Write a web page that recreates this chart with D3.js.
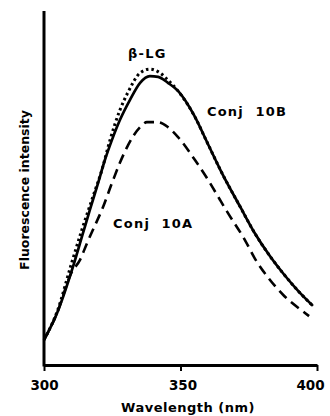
<!DOCTYPE html>
<html>
<head>
<meta charset="utf-8">
<script src="https://cdn.jsdelivr.net/npm/d3@7"></script>
<style>
  body { margin: 0; background: #fff; }
  text { font-family: "DejaVu Sans", "Liberation Sans", Arial, sans-serif; font-weight: bold; fill: #000; }
</style>
</head>
<body>
<div id="graphicContainer"></div>
<script>
// data (wavelength nm, relative intensity)
var conj10B = [[300,7.1],[304.8,14.7],[310.6,27.7],[314.3,37.3],[316.8,43.8],[319.8,51.4],[322.3,57.9],[324.9,63.6],
	[327.8,69.2],[331.5,74.9],[335.2,79.7],[338.8,81.6],[341.8,81.4],[345.4,79.7],[349,77.5],[355,70.5],[360,62.5],
	[365,54.5],[372,44.5],[377,37.5],[383,30.5],[388,25.5],[393,21],[398.5,16.7]];
var betaLG = [[300,7.1],[305,15.5],[310,28.5],[314,38.5],[317.9,47.5],[321.2,55.1],[324.2,63.6],[327.8,72],
	[330.8,77.1],[335.2,82.5],[338.8,83.6],[342.5,82.5],[345.4,80.5],[349,77.5],[355,70.5],[360,62.5],
	[365,54.5],[372,44.5],[377,37.5],[383,30.5],[388,25.5],[393,21],[398.5,16.7]];
var conj10A = [[300,7.1],[304.8,14.7],[310,26],[313.2,29.7],[315.8,34.5],[318.7,39.5],[321.2,43.8],[324.9,51.4],
	[327.8,57.1],[330.8,62.1],[335.2,67.2],[337.7,68.6],[341.8,68.6],[345.4,67.2],[349.1,64.4],[355.3,57.9],
	[360.1,52.3],[364.5,46.6],[367.4,42.9],[373.6,35.3],[377.3,30],[382,24.8],[388,19.5],[395.6,14.7],[397.1,13.8]];
var xTicks = [300, 350, 400];
var labels = [
	{name: "\u03b2-LG", wl: 330.8, val: 86.7},
	{name: "Conj  10B", wl: 359.7, val: 70.3},
	{name: "Conj  10A", wl: 325.3, val: 38.7}
];

var width = 330,
	height = 416,
	margin = {top: 11, left: 44, right: 13, bottom: 51};

var svg = d3.select("#graphicContainer")
	.append("svg")
	.attr("width", width)
	.attr("height", height);

var x = d3.scaleLinear().domain([300, 400]).range([margin.left, width - margin.right]),
	y = d3.scaleLinear().domain([0, 100]).range([height - margin.bottom, margin.top]);

var line = d3.line()
	.x(function(d){ return x(d[0]) })
	.y(function(d){ return y(d[1]) })
	.curve(d3.curveMonotoneX);

// curves
svg.append("path").datum(conj10A)
	.attr("d", line).attr("fill", "none").attr("stroke", "#000")
	.attr("stroke-width", 2.6).attr("stroke-dasharray", "10,6");
svg.append("path").datum(betaLG)
	.attr("d", line).attr("fill", "none").attr("stroke", "#000")
	.attr("stroke-width", 3).attr("stroke-dasharray", "2.5,3");
svg.append("path").datum(conj10B)
	.attr("d", line).attr("fill", "none").attr("stroke", "#000")
	.attr("stroke-width", 2.7);

// axes
var xAxis = svg.append("g")
	.attr("transform", "translate(0," + y(0) + ")")
	.call(d3.axisBottom(x).tickValues(xTicks).tickSize(6).tickSizeOuter(0).tickPadding(9));
xAxis.select(".domain").attr("stroke-width", 3);
xAxis.selectAll(".tick line").attr("stroke-width", 2);
xAxis.selectAll(".tick text").attr("font-size", "13.5px")
	.attr("font-family", null)
	.attr("dx", function(d){ return d == 400 ? -7 : (d == 350 ? 2 : 0) });

svg.append("line")
	.attr("x1", x(300)).attr("x2", x(300))
	.attr("y1", y(0) + 1.5).attr("y2", y(100))
	.attr("stroke", "#000").attr("stroke-width", 3);

// axis titles
svg.append("text")
	.attr("x", 188).attr("y", 412)
	.attr("text-anchor", "middle")
	.attr("font-size", "13px").attr("letter-spacing", "0.5px")
	.text("Wavelength (nm)");

svg.append("text")
	.attr("transform", "translate(29,190) rotate(-90)")
	.attr("text-anchor", "middle")
	.attr("font-size", "12.5px")
	.text("Fluorescence intensity");

// curve labels
svg.selectAll(".curveLabel")
	.data(labels)
	.enter().append("text")
	.attr("class", "curveLabel")
	.attr("x", function(d){ return x(d.wl) })
	.attr("y", function(d){ return y(d.val) })
	.attr("font-size", "13px").attr("letter-spacing", "1.2px")
	.style("white-space", "pre")
	.text(function(d){ return d.name });
</script>
</body>
</html>
